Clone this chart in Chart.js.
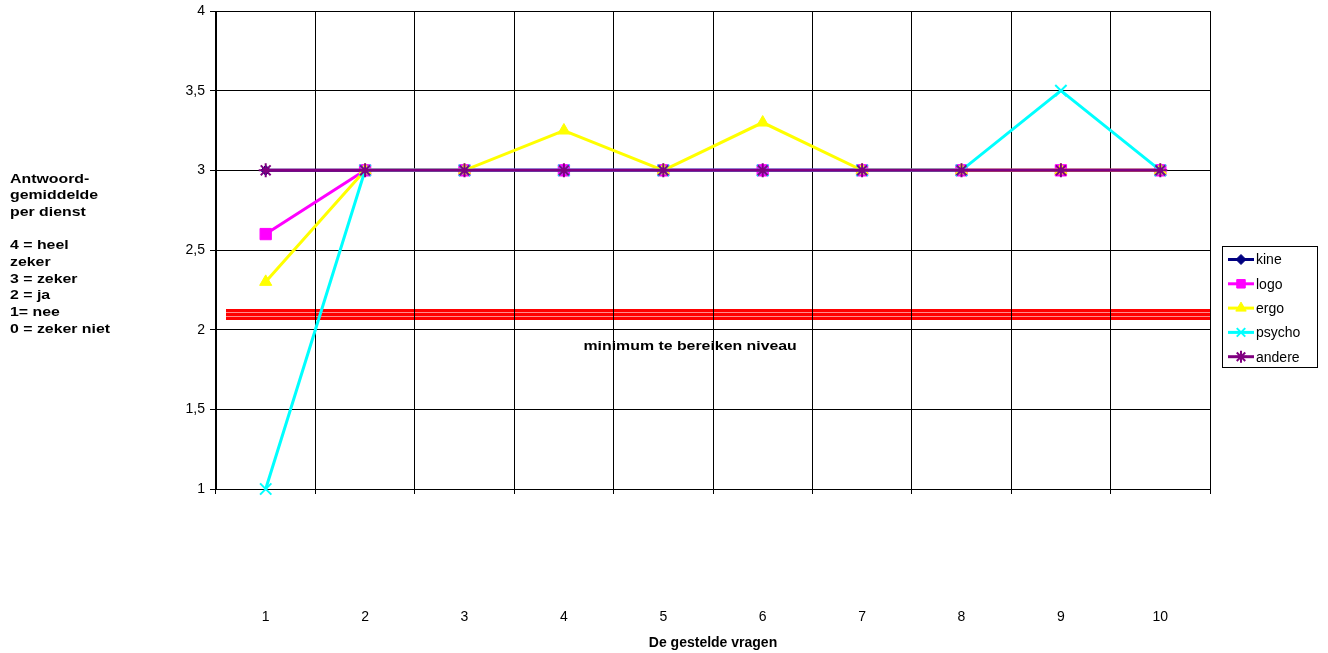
<!DOCTYPE html>
<html>
<head>
<meta charset="utf-8">
<title>Antwoordgemiddelde per dienst</title>
<script src="https://cdn.jsdelivr.net/npm/chart.js@4.4.1/dist/chart.umd.min.js"></script>
<style>
  html, body { margin: 0; padding: 0; background: #fff; }
  #wrap { position: relative; width: 1328px; height: 653px; }
</style>
</head>
<body>
<div id="wrap"><canvas id="chart"></canvas></div>
<script>
// data
const vragen = ['1', '2', '3', '4', '5', '6', '7', '8', '9', '10'];
const kine   = [3, 3, 3, 3, 3, 3, 3, 3, 3, 3];
const logo   = [2.6, 3, 3, 3, 3, 3, 3, 3, 3, 3];
const ergo   = [2.3, 3, 3, 3.25, 3, 3.3, 3, 3, 3, 3];
const psycho = [1, 3, 3, 3, 3, 3, 3, 3, 3.5, 3];
const andere = [3, 3, 3, 3, 3, 3, 3, 3, 3, 3];
const minimumNiveau = 2.1;
const yTicks = [1, 1.5, 2, 2.5, 3, 3.5, 4];
const linksLabel = ['Antwoord-', 'gemiddelde', 'per dienst', '', '4 = heel', 'zeker',
                    '3 = zeker', '2 = ja', '1= nee', '0 = zeker niet'];

const FONT = '"Liberation Sans", Arial, sans-serif';
Chart.defaults.font.family = FONT;
Chart.defaults.font.size = 14;
Chart.defaults.color = '#000';

function serie(label, data, color, style, radius, order) {
    return {
        label: label,
        data: data,
        borderColor: color,
        backgroundColor: color,
        borderWidth: 3,
        pointStyle: style,
        pointRadius: radius,
        pointHoverRadius: radius,
        pointBorderWidth: (style === 'crossRot' || style === 'star') ? 2 : 1,
        tension: 0,
        clip: false,
        order: order
    };
}

const datasets = [
    serie('kine', kine, '#000080', 'rectRot', 5, 5),
    serie('logo', logo, '#FF00FF', 'rect', 8, 4),
    serie('ergo', ergo, '#FFFF00', 'triangle', 7, 3),
    serie('psycho', psycho, '#00FFFF', 'crossRot', 8, 2),
    serie('andere', andere, '#800080', 'star', 7, 1)
];

// stretched text, the reference text is wider than it is tall
function tekst(ctx, t, x, y, stretch) {
    ctx.save();
    ctx.translate(x, y);
    ctx.scale(stretch, 1);
    ctx.fillText(t, 0, 0);
    ctx.restore();
}

// red band for the minimum level, drawn under the grid
const minimumBand = {
    id: 'minimumBand',
    beforeDraw(chart) {
        const ctx = chart.ctx;
        const area = chart.chartArea;
        const y = Math.round(chart.scales.y.getPixelForValue(minimumNiveau));
        const x0 = area.left + 10;
        const x1 = area.right;
        ctx.save();
        ctx.fillStyle = '#FF0000';
        ctx.fillRect(x0, y - 5, x1 - x0, 11);
        ctx.fillStyle = '#FF8C8C';
        ctx.fillRect(x0, y - 2, x1 - x0, 1);
        ctx.fillRect(x0, y + 2, x1 - x0, 1);
        ctx.restore();
    }
};

// texts and the legend box
const extraTekst = {
    id: 'extraTekst',
    afterDraw(chart) {
        const ctx = chart.ctx;
        const area = chart.chartArea;
        ctx.save();
        ctx.font = 'bold 13px ' + FONT;
        ctx.fillStyle = '#000';
        ctx.textBaseline = 'middle';
        ctx.textAlign = 'left';
        linksLabel.forEach(function(t, i) {
            tekst(ctx, t, 10, 179 + i * 16.7, 1.22);
        });

        ctx.textAlign = 'center';
        const yMin = chart.scales.y.getPixelForValue(2) + 17;
        tekst(ctx, 'minimum te bereiken niveau', area.left + area.width * 0.477, yMin, 1.22);

        // legend
        const lx = 1222, ly = 246, lw = 95, lh = 121;
        ctx.fillStyle = '#fff';
        ctx.fillRect(lx, ly, lw, lh);
        ctx.strokeStyle = '#000';
        ctx.lineWidth = 1;
        ctx.strokeRect(lx + 0.5, ly + 0.5, lw, lh);
        ctx.font = '14px ' + FONT;
        ctx.textAlign = 'left';
        datasets.forEach(function(ds, i) {
            const y = 259.5 + i * 24.3;
            ctx.strokeStyle = ds.borderColor;
            ctx.lineWidth = 3;
            ctx.beginPath();
            ctx.moveTo(lx + 6, y);
            ctx.lineTo(lx + 32, y);
            ctx.stroke();
            ctx.fillStyle = ds.backgroundColor;
            ctx.lineWidth = ds.pointBorderWidth;
            Chart.helpers.drawPoint(ctx, {
                pointStyle: ds.pointStyle,
                radius: Math.min(ds.pointRadius, 6),
                rotation: 0,
                borderWidth: ds.pointBorderWidth
            }, lx + 19, y);
            ctx.fillStyle = '#000';
            ctx.fillText(ds.label, lx + 34, y + 1);
        });
        ctx.restore();
    }
};

new Chart(document.getElementById('chart'), {
    type: 'line',
    data: { labels: vragen, datasets: datasets },
    options: {
        responsive: true,
        maintainAspectRatio: false,
        animation: false,
        layout: { padding: { top: 11, right: 118, left: 0, bottom: 0 } },
        plugins: {
            legend: { display: false },
            tooltip: { enabled: false }
        },
        scales: {
            x: {
                offset: true,
                grid: { offset: true, color: '#000', lineWidth: 1, tickLength: 5 },
                border: { color: '#000', width: 1 },
                ticks: { padding: 115, color: '#000', font: { size: 14 } },
                title: {
                    display: true,
                    text: 'De gestelde vragen',
                    font: { size: 14, weight: 'bold' },
                    color: '#000',
                    padding: { top: 0, bottom: 1 }
                },
                afterFit(scale) { scale.height = 164; }
            },
            y: {
                min: 1,
                max: 4,
                afterBuildTicks(scale) {
                    scale.ticks = yTicks.map(function(v) { return { value: v }; });
                },
                grid: { color: '#000', lineWidth: 1, tickLength: 6 },
                border: { color: '#000', width: 1 },
                ticks: {
                    padding: 5,
                    color: '#000',
                    font: { size: 14, lineHeight: 0.8 },
                    callback: function(v) { return String(v).replace('.', ','); }
                },
                afterFit(scale) { scale.width = 216; }
            }
        }
    },
    plugins: [minimumBand, extraTekst]
});
</script>
</body>
</html>
